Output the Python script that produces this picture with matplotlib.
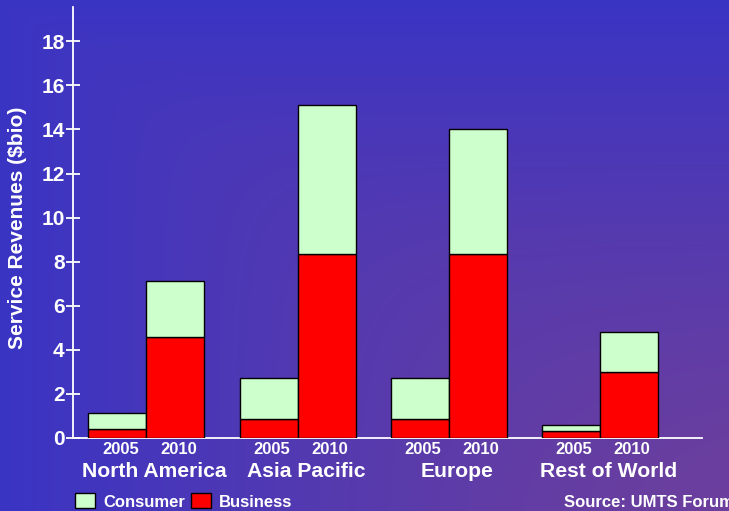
import numpy as np
import matplotlib
matplotlib.use("Agg")
import matplotlib.pyplot as plt
from matplotlib.patches import Rectangle
from matplotlib.transforms import blended_transform_factory

plt.rcParams["font.family"] = ["Liberation Sans", "DejaVu Sans"]
plt.rcParams["font.weight"] = "bold"

# revenues in $bn, per region and year
regions = ["North America", "Asia Pacific", "Europe", "Rest of World"]
years = ["2005", "2010"]
business_2005 = [0.38, 0.84, 0.85, 0.32]
consumer_2005 = [0.75, 1.86, 1.85, 0.27]
business_2010 = [4.56, 8.33, 8.33, 2.97]
consumer_2010 = [2.57, 6.77, 5.70, 1.83]

CONSUMER = "#ccffcc"
BUSINESS = "#ff0000"
WHITE = "white"

W, H = 729, 511
fig = plt.figure(figsize=(W / 100, H / 100), dpi=100)

# background: blue fading into purple towards the lower right
bg = fig.add_axes([0, 0, 1, 1], zorder=-10)
u = np.linspace(0.001, 1, W)[None, :]
v = np.linspace(0.001, 1, H)[:, None]
p = 4.0
t = np.clip((u ** -p + v ** -p) ** (-1 / p) / 0.9, 0, 1)
c0 = np.array([58, 52, 196]) / 255
c1 = np.array([112, 64, 154]) / 255
img = c0[None, None, :] * (1 - t[..., None]) + c1[None, None, :] * t[..., None]
bg.imshow(img, origin="upper", aspect="auto", extent=[0, 1, 0, 1])
bg.set_axis_off()

ax = fig.add_axes([73 / W, 1 - 437.7 / H, 629 / W, 430.4 / H])
ax.patch.set_alpha(0)

x = np.arange(len(regions))
w = 0.384
x05 = x - w / 2
x10 = x + w / 2
kw = dict(width=w, edgecolor="black", linewidth=1.0, zorder=3)
ax.bar(x05, business_2005, color=BUSINESS, **kw)
ax.bar(x05, consumer_2005, bottom=business_2005, color=CONSUMER, **kw)
ax.bar(x10, business_2010, color=BUSINESS, **kw)
ax.bar(x10, consumer_2010, bottom=business_2010, color=CONSUMER, **kw)

ax.set_xlim(-0.486, 3.676)
ax.set_ylim(0, 19.55)
ax.set_yticks(np.arange(0, 19, 2))
ax.set_xticks([])
for side in ["top", "right"]:
    ax.spines[side].set_visible(False)
for side in ["left", "bottom"]:
    ax.spines[side].set_color(WHITE)
    ax.spines[side].set_linewidth(1.3)
ax.tick_params(axis="y", direction="inout", length=10, width=1.3, color=WHITE,
               labelcolor=WHITE, labelsize=15, pad=1)
for lbl in ax.get_yticklabels():
    lbl.set_fontweight("bold")

ax.set_ylabel("Service Revenues ($bio)", color=WHITE, fontsize=15, fontweight="bold")
ax.yaxis.set_label_coords(-0.073, 0.488)

# year labels under each bar and region names under each pair
tr = blended_transform_factory(ax.transData, fig.transFigure)
for i in range(len(regions)):
    ax.text(x05[i] + 0.02, 1 - 449 / H, years[0], transform=tr, ha="center", va="center",
            color=WHITE, fontsize=12, fontweight="bold")
    ax.text(x10[i] + 0.02, 1 - 449 / H, years[1], transform=tr, ha="center", va="center",
            color=WHITE, fontsize=12, fontweight="bold")
    ax.text(x[i] + 0.055, 1 - 471.7 / H, regions[i], transform=tr, ha="center", va="center",
            color=WHITE, fontsize=15.2, fontweight="bold")

# legend
for x0, color, label in [(74.7, CONSUMER, "Consumer"), (190.7, BUSINESS, "Business")]:
    fig.patches.append(Rectangle((x0 / W, 1 - 507.7 / H), 20.3 / W, 14.4 / H,
                                 transform=fig.transFigure, facecolor=color,
                                 edgecolor="black", linewidth=1.0))
    fig.text((x0 + 28.6) / W, 1 - 502.7 / H, label, ha="left", va="center",
             color=WHITE, fontsize=12, fontweight="bold")

fig.text(564 / W, 1 - 502.7 / H, "Source: UMTS Forum", ha="left", va="center",
         color=WHITE, fontsize=12, fontweight="bold")

fig.savefig("out.png", dpi=100)
